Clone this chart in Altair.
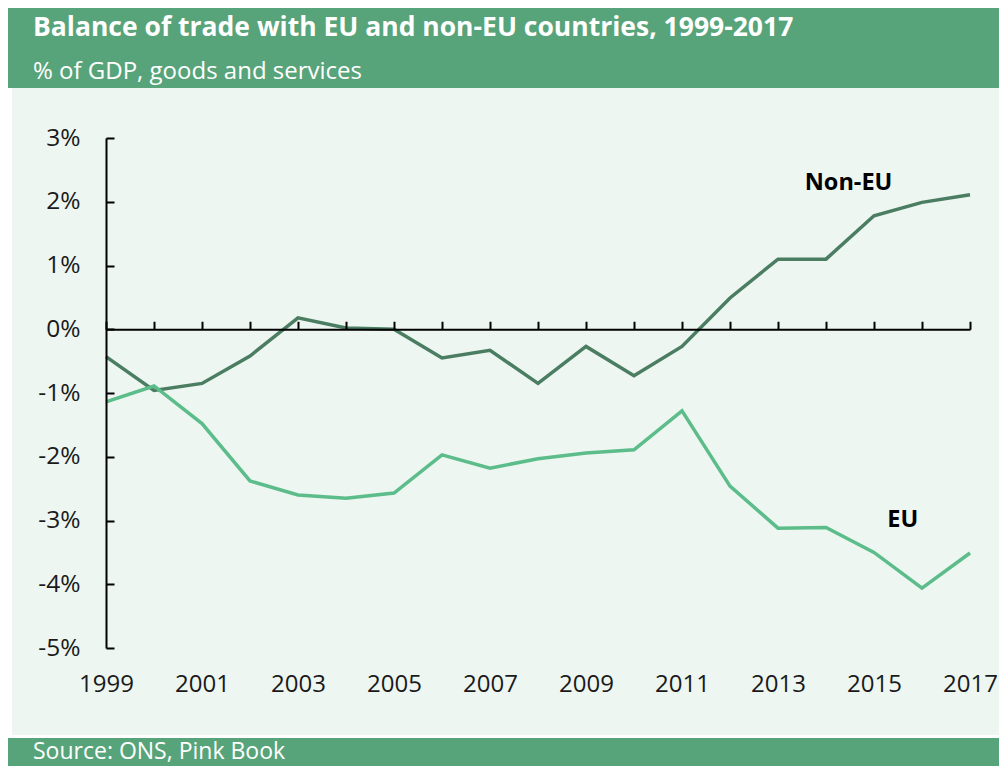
import altair as alt
import pandas as pd

# ---- data ----
years = list(range(1999, 2018))
non_eu = [-0.43, -0.96, -0.85, -0.42, 0.18, 0.02, 0.0, -0.45, -0.33, -0.85,
          -0.27, -0.73, -0.27, 0.49, 1.10, 1.10, 1.78, 1.99, 2.11]
eu = [-1.14, -0.89, -1.48, -2.38, -2.60, -2.65, -2.57, -1.97, -2.18, -2.03,
      -1.94, -1.89, -1.28, -2.46, -3.12, -3.11, -3.50, -4.06, -3.51]
series_names = ["Non-EU", "EU"]
series_colors = ["#4a7d61", "#5cbd8a"]
label_text = ["Non-EU", "EU"]
label_x = [2014.47, 2015.6]
label_y = [2.29, -2.99]
y_ticks = [-5, -4, -3, -2, -1, 0, 1, 2, 3]
x_label_years = list(range(1999, 2018, 2))
title_text = "Balance of trade with EU and non-EU countries, 1999-2017"
subtitle_text = "% of GDP, goods and services"
source_text = "Source: ONS, Pink Book"

GREEN = "#58a47a"
LIGHT = "#edf6f1"
FONT = "Open Sans"
W, H = 864, 510
PAD = {"left": 98, "top": 130, "right": 29, "bottom": 118}

df = pd.DataFrame({
    "year": years * 2,
    "value": non_eu + eu,
    "series": ["Non-EU"] * len(years) + ["EU"] * len(years),
})
lab = pd.DataFrame({"year": label_x, "value": label_y, "text": label_text})
one = pd.DataFrame({"a": [0]})
ext = pd.DataFrame({"year": [1999, 2017], "value": [-5, 3]})

xs = alt.Scale(domain=[1999, 2017], nice=False, zero=False)
ys = alt.Scale(domain=[-5, 3], nice=False, zero=False)


def band(x1, x2, y1, y2, color):
    return alt.Chart(one).mark_rect(color=color).encode(
        x=alt.value(x1), x2=alt.value(x2), y=alt.value(y1), y2=alt.value(y2))


header = band(-98, 900, -130, -50, GREEN)
left_strip = band(-98, -94, -50, 600, "white")
bottom_strip = band(-98, 900, 597, 600, "white")
footer = band(-98, 900, 600, 640, GREEN)

t_title = alt.Chart(one).mark_text(
    text=title_text, align="left", baseline="middle", font=FONT,
    fontSize=26.5, fontWeight="bold", color="white").encode(
    x=alt.value(-73), y=alt.value(-110))
t_sub = alt.Chart(one).mark_text(
    text=subtitle_text, align="left", baseline="middle", font=FONT,
    fontSize=24, color="white").encode(x=alt.value(-73), y=alt.value(-66))
t_src = alt.Chart(one).mark_text(
    text=source_text, align="left", baseline="middle", font=FONT,
    fontSize=23, color="white").encode(x=alt.value(-73), y=alt.value(614))

lines = alt.Chart(df).mark_line(strokeWidth=3.5).encode(
    x=alt.X("year:Q", scale=xs, axis=alt.Axis(
        orient="bottom", values=x_label_years, format="d", domain=False,
        ticks=False, tickSize=0, labelPadding=24, labelFontSize=24,
        labelFlush=False, labelOverlap=False,
        labelColor="#1a1a1a", labelFont=FONT, grid=False, title=None)),
    y=alt.Y("value:Q", scale=ys, axis=alt.Axis(
        orient="left", values=y_ticks, labelExpr="datum.value + '%'",
        domain=False, ticks=False, tickSize=0, labelPadding=26,
        labelFlush=False, labelOverlap=False,
        labelFontSize=24.5, labelColor="#1a1a1a", labelFont=FONT,
        grid=False, title=None)),
    color=alt.Color("series:N", scale=alt.Scale(domain=series_names, range=series_colors), legend=None),
)

axes_layer = alt.Chart(ext).mark_point(opacity=0).encode(
    x=alt.X("year:Q", scale=xs, axis=alt.Axis(
        orient="top", offset=-191.25, values=years, labels=False,
        domain=True, domainColor="black", domainWidth=2,
        ticks=True, tickSize=8, tickWidth=2, tickColor="black",
        grid=False, title=None, zindex=1)),
    y=alt.Y("value:Q", scale=ys, axis=alt.Axis(
        orient="right", offset=-W, values=y_ticks, labels=False,
        domain=True, domainColor="black", domainWidth=2,
        ticks=True, tickSize=8, tickWidth=2, tickColor="black",
        grid=False, title=None, zindex=1)),
)

labels = alt.Chart(lab).mark_text(
    font=FONT, fontSize=23.5, fontWeight="bold", color="black",
    align="center", baseline="middle").encode(
    x=alt.X("year:Q", scale=xs, axis=None),
    y=alt.Y("value:Q", scale=ys, axis=None),
    text="text:N",
)

chart = alt.layer(
    header, left_strip, bottom_strip, footer, t_title, t_sub, t_src,
    lines, axes_layer, labels
).resolve_axis(
    x="independent", y="independent"
).properties(
    width=W, height=H,
    autosize=alt.AutoSizeParams(type="none"),
    padding=PAD,
    background=LIGHT,
).configure_view(strokeWidth=0)

chart.save("out.html", embed_options={"renderer": "svg", "actions": False})
